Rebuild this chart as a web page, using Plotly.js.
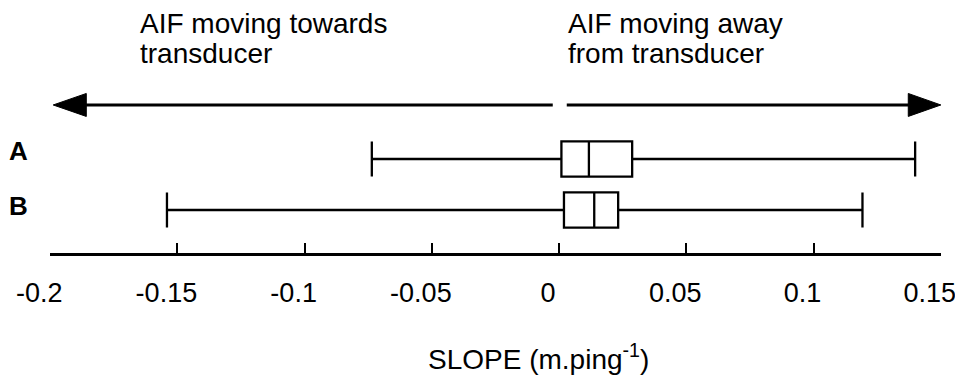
<!DOCTYPE html>
<html>
<head>
<meta charset="utf-8">
<script src="https://cdn.plot.ly/plotly-3.0.1.min.js"></script>
<style>
  html, body { margin: 0; padding: 0; background: #fff; }
  #chart { width: 955px; height: 378px; }
</style>
</head>
<body>
<div id="chart"></div>
<script>
// Groups, listed top to bottom
const groups = ['A', 'B'];

// Box-plot statistics of the slope (m.ping^-1) for each group
const lowerWhisker = [-0.0736, -0.1541];
const lowerQuartile = [0.0009, 0.0019];
const medians = [0.0117, 0.0138];
const upperQuartile = [0.0287, 0.0232];
const upperWhisker = [0.1399, 0.1192];

// Axis ticks
const tickValues = [-0.2, -0.15, -0.1, -0.05, 0, 0.05, 0.1, 0.15];
const tickLabels = ['-0.2', '-0.15', '-0.1', '-0.05', '0', '0.05', '0.1', '0.15'];

// Direction captions
const leftCaption = ['AIF moving towards', 'transducer'];
const rightCaption = ['AIF moving away', 'from transducer'];
const axisTitle = 'SLOPE (m.ping<sup>-1</sup>)';

const FONT = 'Liberation Sans, Arial, sans-serif';

const boxes = {
  type: 'box',
  orientation: 'h',
  y: groups,
  lowerfence: lowerWhisker,
  q1: lowerQuartile,
  median: medians,
  q3: upperQuartile,
  upperfence: upperWhisker,
  boxpoints: false,
  whiskerwidth: 1,
  width: 0.69,
  fillcolor: 'rgba(255,255,255,0)',
  line: { color: '#000', width: 2.3 },
  hoverinfo: 'skip',
  showlegend: false
};

// Direction arrows (vertical position in category index units)
const arrowY = -1.06;
const headHalf = 0.225;
const shapes = [
  { type: 'line', xref: 'x', yref: 'y', x0: -0.0025, x1: -0.186, y0: arrowY, y1: arrowY,
    line: { color: '#000', width: 3 } },
  { type: 'path', xref: 'x', yref: 'y',
    path: `M -0.1988,${arrowY} L -0.1858,${arrowY - headHalf} L -0.1858,${arrowY + headHalf} Z`,
    fillcolor: '#000', line: { color: '#000', width: 1 } },
  { type: 'line', xref: 'x', yref: 'y', x0: 0.003, x1: 0.138, y0: arrowY, y1: arrowY,
    line: { color: '#000', width: 3 } },
  { type: 'path', xref: 'x', yref: 'y',
    path: `M 0.15,${arrowY} L 0.1372,${arrowY - headHalf} L 0.1372,${arrowY + headHalf} Z`,
    fillcolor: '#000', line: { color: '#000', width: 1 } }
];

const captionFont = { family: FONT, size: 28, color: '#000' };
const annotations = [];
leftCaption.forEach((t, i) => annotations.push({
  text: t, xref: 'x', yref: 'y', x: -0.1655, y: -2.667 + i * 0.59,
  xanchor: 'left', yanchor: 'middle', showarrow: false, font: captionFont
}));
rightCaption.forEach((t, i) => annotations.push({
  text: t, xref: 'x', yref: 'y', x: 0.0028, y: -2.667 + i * 0.59,
  xanchor: 'left', yanchor: 'middle', showarrow: false, font: captionFont
}));
groups.forEach((g, i) => annotations.push({
  text: '<b>' + g + '</b>', xref: 'paper', yref: 'y', x: 0, y: i,
  xanchor: 'right', yanchor: 'middle', xshift: -20, yshift: i === 0 ? 8 : 4,
  showarrow: false, font: { family: FONT, size: 26, color: '#000' }
}));
annotations.push({
  text: axisTitle, xref: 'paper', yref: 'paper', x: 0.4218, y: -0.428,
  xanchor: 'left', yanchor: 'middle', showarrow: false,
  font: { family: FONT, size: 28, color: '#000' }
});

const layout = {
  width: 955,
  height: 378,
  margin: { l: 50, r: 14, t: 10, b: 125 },
  paper_bgcolor: '#fff',
  plot_bgcolor: '#fff',
  showlegend: false,
  xaxis: {
    range: [-0.20006, 0.15006],
    tickvals: tickValues,
    ticktext: tickLabels,
    ticks: 'inside',
    ticklen: 10,
    tickwidth: 2,
    tickcolor: '#000',
    showline: true,
    linewidth: 2.5,
    linecolor: '#000',
    showgrid: false,
    zeroline: false,
    ticklabelstandoff: 14,
    ticklabelshift: -11,
    ticklabeloverflow: 'allow',
    tickfont: { family: FONT, size: 27, color: '#000' }
  },
  yaxis: {
    type: 'category',
    categoryorder: 'array',
    categoryarray: groups,
    range: [1.843, -2.922],
    showticklabels: false,
    showline: false,
    showgrid: false,
    zeroline: false,
    ticks: ''
  },
  shapes: shapes,
  annotations: annotations
};

Plotly.newPlot('chart', [boxes], layout, { staticPlot: true, displayModeBar: false });
</script>
</body>
</html>
